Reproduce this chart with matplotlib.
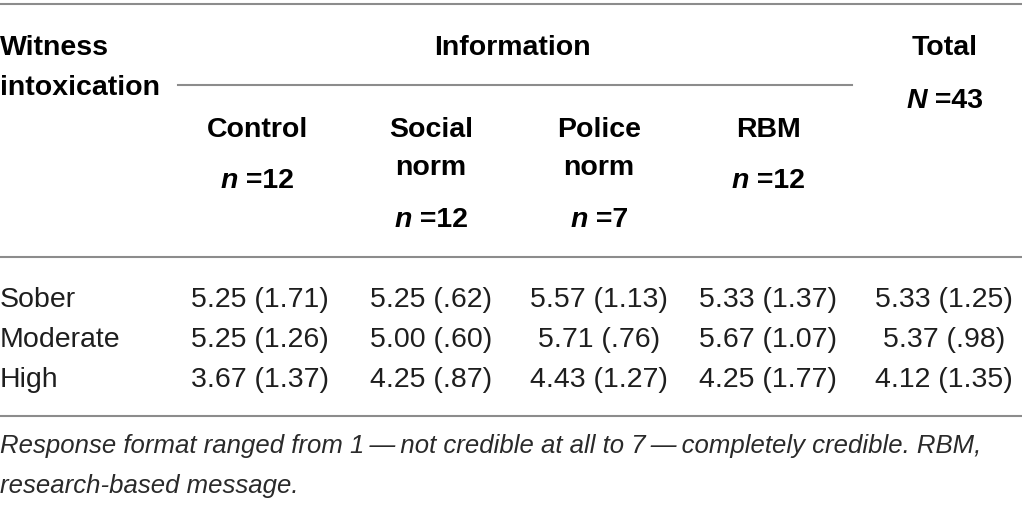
import matplotlib.pyplot as plt

# table content
rows = ["Sober", "Moderate", "High"]
groups = ["Control", "Social\nnorm", "Police\nnorm", "RBM"]
group_n = [12, 12, 7, 12]
total_n = 43
means = [
    [5.25, 5.25, 5.57, 5.33, 5.33],
    [5.25, 5.00, 5.71, 5.67, 5.37],
    [3.67, 4.25, 4.43, 4.25, 4.12],
]
sds = [
    [1.71, .62, 1.13, 1.37, 1.25],
    [1.26, .60, .76, 1.07, .98],
    [1.37, .87, 1.27, 1.77, 1.35],
]
note = ("Response format ranged from 1\u2009\u2014\u2009not credible at all to 7\u2009\u2014\u2009completely credible. RBM,\n"
        "research-based message.")


def fmt_sd(v):
    s = "%.2f" % v
    return s[1:] if s.startswith("0") else s


plt.rcParams['font.family'] = ['Liberation Sans', 'DejaVu Sans']
fs = 20.5
line_col = "#8c8c8c"

fig = plt.figure(figsize=(10.22, 5.05), dpi=100)
ax = fig.add_axes([0, 0, 1, 1])
ax.set_xlim(0, 1022)
ax.set_ylim(505, 0)
ax.axis("off")
renderer = fig.canvas.get_renderer()


def count_label(x, y, letter, num):
    # italic bold letter followed by " =num", centred on x as a whole
    t1 = ax.text(0, y, letter, fontsize=fs, fontweight="bold", style="italic", va="baseline")
    t2 = ax.text(0, y, " =%d" % num, fontsize=fs, fontweight="bold", va="baseline")
    w1 = t1.get_window_extent(renderer).width
    w2 = t2.get_window_extent(renderer).width
    left = x - (w1 + w2) / 2
    t1.set_x(left)
    t2.set_x(left + w1)


col_x = [257, 431, 599, 768, 945]
data_x = [260, 431, 599, 768, 944]

# rules
ax.plot([0, 1022], [4, 4], color=line_col, lw=1.5)
ax.plot([178, 852], [85, 85], color=line_col, lw=1.5)
ax.plot([0, 1022], [257, 257], color=line_col, lw=1.5)
ax.plot([0, 1022], [416, 416], color=line_col, lw=1.5)

# header
ax.text(0, 55, "Witness", fontsize=fs, fontweight="bold", va="baseline")
ax.text(0, 95, "intoxication", fontsize=fs, fontweight="bold", va="baseline")
ax.text((col_x[0] + col_x[3]) / 2, 55, "Information", fontsize=fs, fontweight="bold",
        ha="center", va="baseline")
ax.text(col_x[4], 55, "Total", fontsize=fs, fontweight="bold", ha="center", va="baseline")
count_label(col_x[4], 108, "N", total_n)

for i, (g, n) in enumerate(zip(groups, group_n)):
    parts = g.split("\n")
    ax.text(col_x[i], 137, parts[0], fontsize=fs, fontweight="bold", ha="center", va="baseline")
    if len(parts) == 1:
        count_label(col_x[i], 188, "n", n)
    else:
        ax.text(col_x[i], 175, parts[1], fontsize=fs, fontweight="bold", ha="center", va="baseline")
        count_label(col_x[i], 227, "n", n)

# body
row_y = [307, 347, 387]
for r, label in enumerate(rows):
    ax.text(0, row_y[r], label, fontsize=fs, va="baseline", color="#1e1e1e")
    for c in range(5):
        ax.text(data_x[c], row_y[r], "%.2f (%s)" % (means[r][c], fmt_sd(sds[r][c])),
                fontsize=fs, ha="center", va="baseline", color="#1e1e1e")

# footnote
lines = note.split("\n")
ax.text(0, 453, lines[0], fontsize=18.5, style="italic", va="baseline", color="#2a2a2a")
ax.text(0, 493, lines[1], fontsize=18.5, style="italic", va="baseline", color="#2a2a2a")

fig.savefig("out.png", dpi=100)
